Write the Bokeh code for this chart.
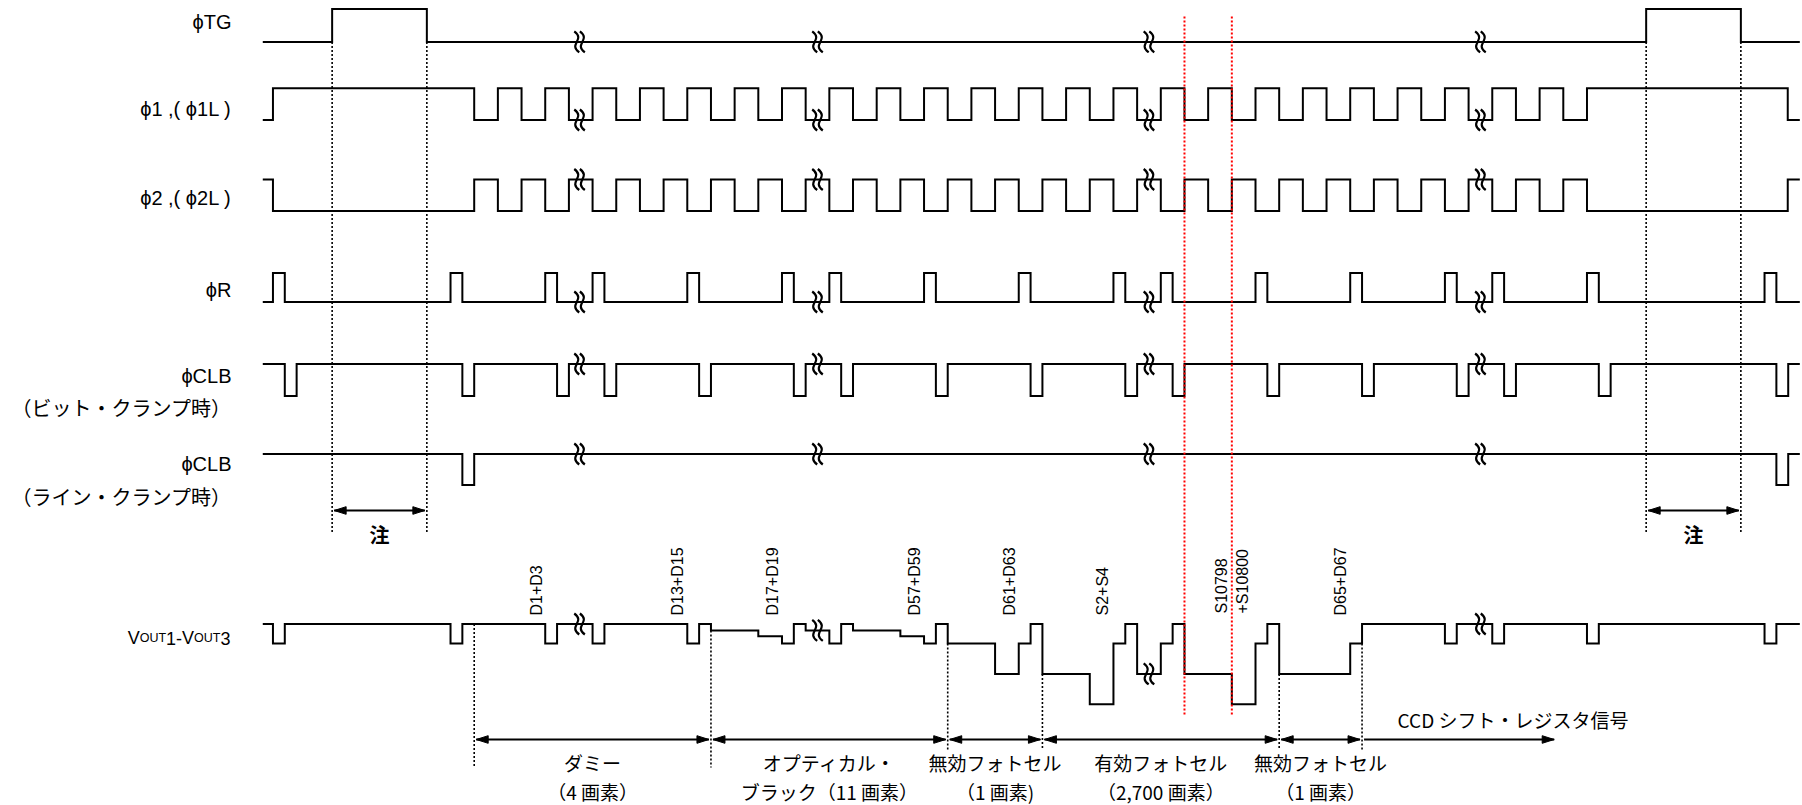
import numpy as np
from bokeh.plotting import figure
from bokeh.models import Range1d, ColumnDataSource
from bokeh.core.properties import value
from bokeh.embed import file_html
from bokeh.resources import INLINE

# ---------------- data (time axis in half-clock units) ----------------
T_BEGIN = -8.93
T_FINISH = 55.99

tg_edges = [-6.0, -2.0, 49.5, 53.5]                     # starts low
phi1_edges = [-8.5, 0, 1, 2, 3, 4, 5, 6, 7, 8, 9, 10, 11, 12, 13, 14, 15, 16,
              17, 18, 19, 20, 21, 22, 23, 24, 25, 26, 27, 28, 29, 30, 31, 32,
              33, 34, 35, 36, 37, 38, 39, 40, 41, 42, 43, 44, 45, 46, 47, 55.48]
phiR_pulses = [-8.5, -1, 3, 5, 9, 13, 15, 19, 23, 27, 29, 33, 37, 41, 43, 47, 54.5]
clb_bit_pulses = [-8.0, -0.5, 3.5, 5.5, 9.5, 13.5, 15.5, 19.5, 23.5, 27.5, 29.5,
                  33.5, 37.5, 41.5, 43.5, 47.5, 55.0]
clb_line_pulses = [-0.5, 55.0]
pulse_width = 0.5

vout_times = [T_BEGIN, -8.5, -8.0, -1, -0.5, 3, 3.5, 5, 5.5, 9, 9.5, 10, 12, 13,
              13.5, 14, 15, 15.5, 16, 18, 19, 19.5, 20, 22, 23, 23.5, 24, 26,
              27, 27.5, 28, 29, 29.5, 30, 32, 33, 33.5, 34, 37, 37.5, 41, 41.5,
              43, 43.5, 47, 47.5, 54.5, 55, T_FINISH]
vout_levels = [0, -1, 0, -1, 0, -1, 0, -1, 0, -1, 0, -0.33, -0.62, -1,
               0, -0.33, -1, 0, -0.33, -0.62, -1, 0, -1, -2.55, -1, 0, -2.55, -4.1,
               -1, 0, -2.55, -1, 0, -2.55, -4.1, -1, 0, -2.55, -1, 0, -1, 0,
               -1, 0, -1, 0, -1, 0, 0]

break_times = [4.45, 14.5, 28.5, 42.5]
red_marks = [30.0, 32.0]
tg_marks = [-6.0, -2.0, 49.5, 53.5]
note_spans = [(-6.0, -2.0), (49.5, 53.5)]

section_bounds = [0, 10, 20, 24, 34, 37.5]
shift_end = 45.7
section_line1 = ["ダミー", "オプティカル・", "無効フォトセル", "有効フォトセル", "無効フォトセル"]
section_line2 = ["（4 画素）", "ブラック（11 画素）", "（1 画素)", "（2,700 画素）", "（1 画素）"]
shift_label = "CCD シフト・レジスタ信号"

pixel_label_t = [2.62, 8.59, 12.6, 18.61, 22.62, 26.55, 31.57, 32.46, 36.59]
pixel_labels = ["D1+D3", "D13+D15", "D17+D19", "D57+D59", "D61+D63", "S2+S4",
                "S10798", "+S10800", "D65+D67"]

row_names = ["ϕTG", "ϕ1 ,( ϕ1L )", "ϕ2 ,( ϕ2L )", "ϕR", "ϕCLB", "ϕCLB"]
row_sub = [None, None, None, None, "（ビット・クランプ時）", "（ライン・クランプ時）"]

# ---------------- layout ----------------
X0, H = 473.7, 23.676          # reference pixel of t=0, pixels per unit
W, HT = 1802, 805


def tx(px):
    return (px - X0) / H


# (y_low, y_high) per digital row, in page pixels
ROWS = {"tg": (41.4, 8.5), "p1": (119.5, 87.8), "p2": (210.5, 179.0),
        "r": (301.5, 272.5), "cb": (395.5, 363.5), "cl": (484.5, 453.5)}
VOUT_BASE, VOUT_UNIT = 623.5, 19.6
LABEL_Y = {"tg": 21, "p1": 108, "p2": 197, "r": 289, "cb": 375, "cl": 463}
SUB_Y = {"cb": 407, "cl": 496}

p = figure(width=W, height=HT, output_backend="svg", toolbar_location=None,
           x_range=Range1d(tx(0), tx(W)), y_range=Range1d(HT, 0),
           x_axis_type=None, y_axis_type=None, min_border=0,
           outline_line_color=None, background_fill_color="white")
p.grid.visible = False


def toggle_wave(start_level, edges):
    ts = [T_BEGIN] + list(edges) + [T_FINISH]
    lv = [start_level]
    for _ in edges:
        lv.append(1 - lv[-1])
    lv.append(lv[-1])
    return ts, lv


def pulse_wave(base, starts):
    ts, lv = [T_BEGIN], [base]
    for s in starts:
        ts += [s, s + pulse_width]
        lv += [1 - base, base]
    ts.append(T_FINISH)
    lv.append(base)
    return ts, lv


def level_at(ts, lv, t):
    i = max(k for k in range(len(ts)) if ts[k] <= t)
    return lv[i]


waves = {
    "tg": toggle_wave(0, tg_edges),
    "p1": toggle_wave(0, phi1_edges),
    "p2": toggle_wave(1, phi1_edges),
    "r": pulse_wave(0, phiR_pulses),
    "cb": pulse_wave(1, clb_bit_pulses),
    "cl": pulse_wave(1, clb_line_pulses),
}

LW = 2
bz = {"x0": [], "y0": [], "x1": [], "y1": [], "cx0": [], "cy0": [], "cx1": [], "cy1": []}


def add_break(t, y):
    for dx in (-2.8, 2.8):
        bz["x0"].append(t + (dx - 2.5) / H); bz["y0"].append(y - 10.5)
        bz["x1"].append(t + (dx + 2.5) / H); bz["y1"].append(y + 10.5)
        bz["cx0"].append(t + (dx + 9) / H); bz["cy0"].append(y - 2)
        bz["cx1"].append(t + (dx - 9) / H); bz["cy1"].append(y + 2)


for key, (ts, lv) in waves.items():
    ylo, yhi = ROWS[key]
    ys = [ylo + v * (yhi - ylo) for v in lv]
    p.step(x=ts, y=ys, mode="after", line_color="black", line_width=LW,
           line_join="miter")
    for b in break_times:
        v = level_at(ts, lv, b)
        add_break(b, ylo + v * (yhi - ylo))

vy = [VOUT_BASE - v * VOUT_UNIT for v in vout_levels]
p.step(x=vout_times, y=vy, mode="after", line_color="black", line_width=LW,
       line_join="miter")
for b in break_times:
    add_break(b, VOUT_BASE - level_at(vout_times, vout_levels, b) * VOUT_UNIT)

p.bezier(source=ColumnDataSource(bz), x0="x0", y0="y0", x1="x1", y1="y1",
         cx0="cx0", cy0="cy0", cx1="cx1", cy1="cy1", line_color="black",
         line_width=2.2)

# dotted guide lines
p.segment(x0=tg_marks, y0=[ROWS["tg"][0]] * 4, x1=tg_marks, y1=[533] * 4,
          line_color="black", line_width=1.6, line_dash="2 2")
p.segment(x0=red_marks, y0=[16, 16], x1=red_marks, y1=[715, 715],
          line_color="red", line_width=2, line_dash="2 2")

vb = section_bounds
v_top = []
for b in vb:
    before = level_at(vout_times, vout_levels, b - 1e-6)
    after = level_at(vout_times, vout_levels, b)
    v_top.append(VOUT_BASE - min(before, after) * VOUT_UNIT)
v_bot = [767, 767, 749, 749, 749, 749]
p.segment(x0=vb, y0=v_top, x1=vb, y1=v_bot, line_color="black",
          line_width=1.6, line_dash="2 2")

# arrows
AL, AW = 12.0 / H, 3.8
ax0, ay0, ax1, ay1 = [], [], [], []
heads_x, heads_y = [], []


def arrow(t0, t1, y, left=True, right=True):
    g = 2.0 / H
    a, b = t0 + g, t1 - g
    ax0.append(a); ax1.append(b); ay0.append(y); ay1.append(y)
    if left:
        heads_x.append([a, a + AL, a + AL]); heads_y.append([y, y - AW, y + AW])
    if right:
        heads_x.append([b, b - AL, b - AL]); heads_y.append([y, y - AW, y + AW])


for t0, t1 in note_spans:
    arrow(t0, t1, 510)
for i in range(len(vb) - 1):
    arrow(vb[i], vb[i + 1], 739)
arrow(vb[-1], shift_end, 739, left=False)

p.segment(x0=ax0, y0=ay0, x1=ax1, y1=ay1, line_color="black", line_width=2)
p.patches(xs=heads_x, ys=heads_y, fill_color="black", line_color="black",
          line_width=1)

# texts
LAT = value("Liberation Sans")
JP = value("Noto Sans CJK JP")
keys = ["tg", "p1", "p2", "r", "cb", "cl"]
p.text(x=[tx(231)] * 6, y=[LABEL_Y[k] for k in keys], text=row_names,
       text_font=LAT, text_font_size="20px", text_align="right",
       text_baseline="middle", text_color="black")
p.text(x=[tx(231)] * 2, y=[SUB_Y["cb"], SUB_Y["cl"]],
       text=[row_sub[4], row_sub[5]], text_font=JP, text_font_size="20px",
       text_align="right", text_baseline="middle", text_color="black")

# VOUT1-VOUT3 label built from big / small pieces (right edge at px 230)
vt = ["V", "OUT", "1-", "V", "OUT", "3"]
big, small = 18.0, 12.5
em = {"V": 0.667, "OUT": 0.778 + 0.722 + 0.611, "1-": 0.556 + 0.333, "3": 0.556}
sizes = [big, small, big, big, small, big]
widths = [em[s] * z for s, z in zip(vt, sizes)]
xpos = 230 - sum(widths)
for tt, zz, ww in zip(vt, sizes, widths):
    p.text(x=[tx(xpos)], y=[637.5], text=[tt], text_font=LAT,
           text_font_size=f"{zz}px", text_align="left",
           text_baseline="alphabetic", text_color="black")
    xpos += ww

p.text(x=[(a + b) / 2 for a, b in note_spans], y=[534, 534], text=["注", "注"],
       text_font=JP, text_font_size="20px", text_font_style="bold",
       text_align="center", text_baseline="middle", text_color="black")

p.text(x=pixel_label_t, y=[615, 615, 615, 615, 615, 615, 613, 613, 615],
       text=pixel_labels, angle=np.pi / 2, text_font=LAT, text_font_size="16px",
       text_align="left", text_baseline="middle", text_color="black")

mids = [(vb[i] + vb[i + 1]) / 2 for i in range(len(vb) - 1)]
p.text(x=mids, y=[762] * 5, text=section_line1, text_font=JP,
       text_font_size="19px", text_align="center", text_baseline="middle",
       text_color="black")
p.text(x=mids, y=[791] * 5, text=section_line2, text_font=JP,
       text_font_size="19px", text_align="center", text_baseline="middle",
       text_color="black")
p.text(x=[tx(1397)], y=[719], text=[shift_label], text_font=JP,
       text_font_size="19px", text_align="left", text_baseline="middle",
       text_color="black")

open("out.html", "w").write(file_html(p, INLINE))
